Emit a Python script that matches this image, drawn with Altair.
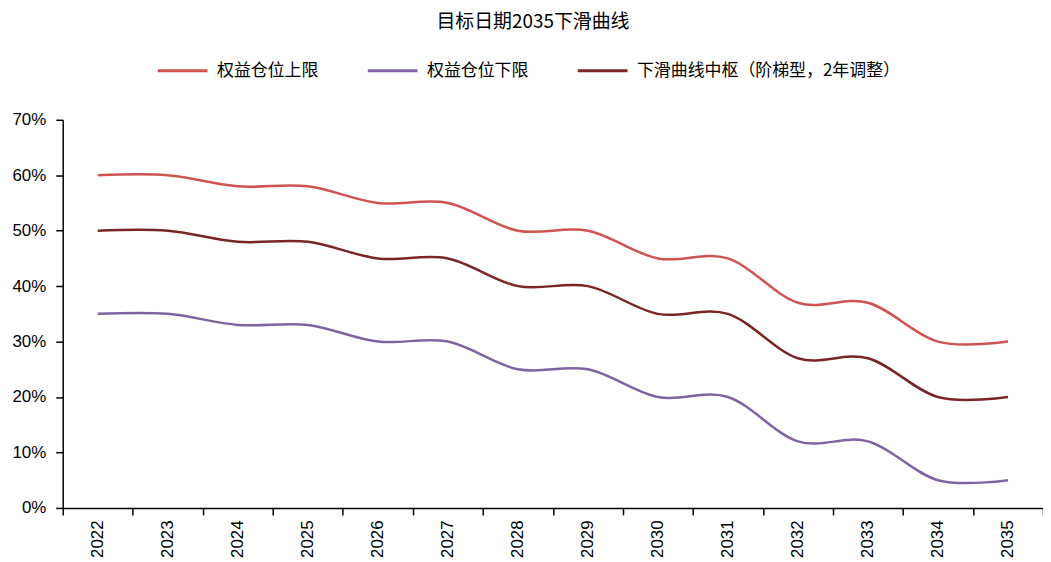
import altair as alt
import pandas as pd

years = [str(y) for y in range(2022, 2036)]
upper = [60, 60, 58, 58, 55, 55, 50, 50, 45, 45, 37, 37, 30, 30]
lower = [35, 35, 33, 33, 30, 30, 25, 25, 20, 20, 12, 12, 5, 5]
middle = [50, 50, 48, 48, 45, 45, 40, 40, 35, 35, 27, 27, 20, 20]
series_names = ["权益仓位上限", "权益仓位下限", "下滑曲线中枢（阶梯型，2年调整）"]
colors = ["#CF5451", "#8064A2", "#7A2626"]
y_ticks = [0, 0.1, 0.2, 0.3, 0.4, 0.5, 0.6, 0.7]

rows = []
for name, vals in zip(series_names, [upper, lower, middle]):
    for yr, v in zip(years, vals):
        rows.append({"year": yr, "value": v / 100, "series": name})
df = pd.DataFrame(rows)

CJK = "Noto Sans CJK SC"
LAT = "Liberation Sans"

chart = alt.Chart(df).mark_line(interpolate="cardinal", strokeWidth=2.5).encode(
    x=alt.X(
        "year:O",
        bandPosition=0.5,
        scale=alt.Scale(type="band", paddingInner=0, paddingOuter=0),
        axis=alt.Axis(
            title=None, labelAngle=-90, tickBand="extent",
            labelFont=LAT, labelFontSize=17, labelColor="#000",
            tickSize=7, tickColor="#000", tickWidth=1.5,
            domainColor="#000", domainWidth=1.5, labelPadding=5,
        ),
    ),
    y=alt.Y(
        "value:Q",
        scale=alt.Scale(domain=[0, 0.7], nice=False),
        axis=alt.Axis(
            title=None, format=".0%", values=y_ticks, grid=False,
            labelFont=LAT, labelFontSize=17, labelColor="#000",
            tickSize=7, tickColor="#000", tickWidth=1.5,
            domainColor="#000", domainWidth=1.5, labelPadding=10,
        ),
    ),
    color=alt.Color(
        "series:N",
        sort=series_names,
        scale=alt.Scale(domain=series_names, range=colors),
        legend=alt.Legend(
            title=None, orient="none", legendX=94, legendY=-76,
            direction="horizontal", symbolType="stroke", symbolSize=2500,
            symbolStrokeWidth=3, labelFont=CJK, labelFontSize=17,
            labelColor="#000", labelOffset=8, columnPadding=43,
            labelLimit=400,
        ),
    ),
).properties(
    width=985,
    height=390,
    padding={"left": 55, "top": 111, "right": 0, "bottom": 50},
    autosize=alt.AutoSizeParams(type="none"),
    title=alt.TitleParams(
        "目标日期2035下滑曲线", font=CJK, fontSize=19, fontWeight="normal",
        color="#000", anchor="middle", frame="group", offset=12, dx=-20,
    ),
).configure_view(stroke=None)

chart.save("out.html", embed_options={"renderer": "svg", "actions": False})
